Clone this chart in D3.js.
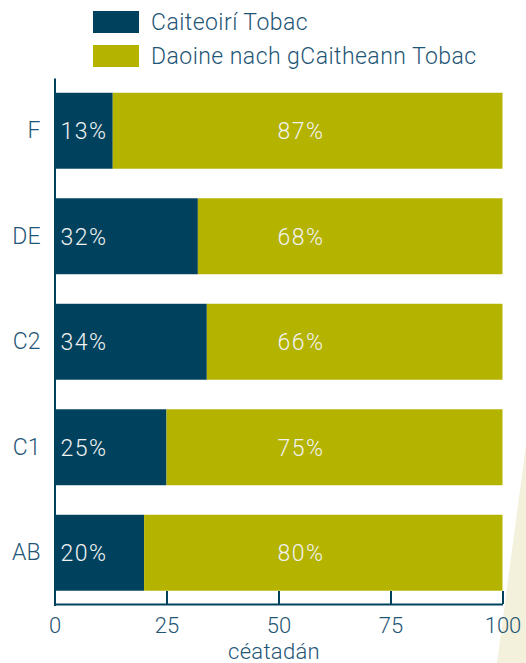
<!DOCTYPE html>
<html>
<head>
<meta charset="utf-8">
<script src="https://cdn.jsdelivr.net/npm/d3@7"></script>
<style>
  body { margin: 0; background: #fff; }
  text { font-family: Roboto, "Open Sans", sans-serif; font-weight: 300; }
</style>
</head>
<body>
<div id="chart"></div>
<script>
(function() {
  var width = 526,
      height = 663;

  // data
  var groups = ["F", "DE", "C2", "C1", "AB"];
  var smokers = [13, 32, 34, 25, 20];
  var nonSmokers = [87, 68, 66, 75, 80];
  var seriesNames = ["Caiteoirí Tobac", "Daoine nach gCaitheann Tobac"];
  var xTicks = [0, 25, 50, 75, 100];
  var xTitle = "céatadán";

  var navy = "#00425e",
      olive = "#b3b300",
      textCol = "#1f5676";

  var svg = d3.select("#chart")
    .append("svg")
    .attr("width", width)
    .attr("height", height);

  // decorative wedge bottom right
  svg.append("polygon")
    .attr("points", "526,445 526,663 497,663")
    .attr("fill", "#f3f1dc");

  var x = d3.scaleLinear().domain([0, 100]).range([54.5, 502.5]);
  var y = d3.scaleBand().domain(groups).range([78, 605.5])
    .paddingInner(0.28).paddingOuter(0.14);

  var rows = groups.map(function(g, i) {
    return { group: g, smoke: smokers[i], non: nonSmokers[i] };
  });

  var row = svg.selectAll(".row")
    .data(rows)
    .enter().append("g")
    .attr("class", "row");

  row.append("rect")
    .attr("x", x(0))
    .attr("y", function(d) { return y(d.group) })
    .attr("width", function(d) { return x(d.smoke) - x(0) })
    .attr("height", y.bandwidth())
    .attr("fill", navy);

  row.append("rect")
    .attr("x", function(d) { return x(d.smoke) })
    .attr("y", function(d) { return y(d.group) })
    .attr("width", function(d) { return x(d.smoke + d.non) - x(d.smoke) })
    .attr("height", y.bandwidth())
    .attr("fill", olive);

  row.append("text")
    .attr("x", x(0) + 6)
    .attr("y", function(d) { return y(d.group) + y.bandwidth() / 2 })
    .attr("dy", "0.36em")
    .attr("fill", "#f2f2f2")
    .style("font-size", "23px")
    .style("letter-spacing", "1.5px")
    .text(function(d) { return d.smoke + "%" });

  row.append("text")
    .attr("x", x(55))
    .attr("y", function(d) { return y(d.group) + y.bandwidth() / 2 })
    .attr("dy", "0.36em")
    .attr("text-anchor", "middle")
    .attr("fill", "#f2f2f2")
    .style("font-size", "23px")
    .style("letter-spacing", "1.5px")
    .text(function(d) { return d.non + "%" });

  // axes
  var yAxis = svg.append("g")
    .attr("transform", "translate(" + x(0) + ",0)")
    .call(d3.axisLeft(y).tickSize(0).tickPadding(14));

  var xAxis = svg.append("g")
    .attr("transform", "translate(0,604)")
    .call(d3.axisBottom(x).tickValues(xTicks).tickSize(-13).tickSizeOuter(0).tickPadding(13));

  [yAxis, xAxis].forEach(function(a) {
    a.select(".domain").attr("stroke", navy).attr("stroke-width", 2);
    a.selectAll(".tick line").attr("stroke", navy).attr("stroke-width", 2);
    a.selectAll("text")
      .attr("fill", textCol)
      .style("font-family", "Roboto, sans-serif")
      .style("font-weight", 300);
  });
  yAxis.selectAll("text").style("font-size", "23px");
  xAxis.selectAll("text").style("font-size", "22px");

  svg.append("text")
    .attr("x", 274)
    .attr("y", 659)
    .attr("text-anchor", "middle")
    .attr("fill", textCol)
    .style("font-size", "22px")
    .style("letter-spacing", "0.3px")
    .text(xTitle);

  // legend
  var legend = svg.selectAll(".legend")
    .data(seriesNames)
    .enter().append("g")
    .attr("class", "legend")
    .attr("transform", function(d, i) { return "translate(93," + (11 + i * 34) + ")" });

  legend.append("rect")
    .attr("width", 46)
    .attr("height", 22)
    .attr("fill", function(d, i) { return i === 0 ? navy : olive });

  legend.append("text")
    .attr("x", 58)
    .attr("y", 11)
    .attr("dy", "0.36em")
    .attr("fill", textCol)
    .style("font-size", "23px")
    .style("letter-spacing", "0.45px")
    .text(function(d) { return d });
})();
</script>
</body>
</html>
